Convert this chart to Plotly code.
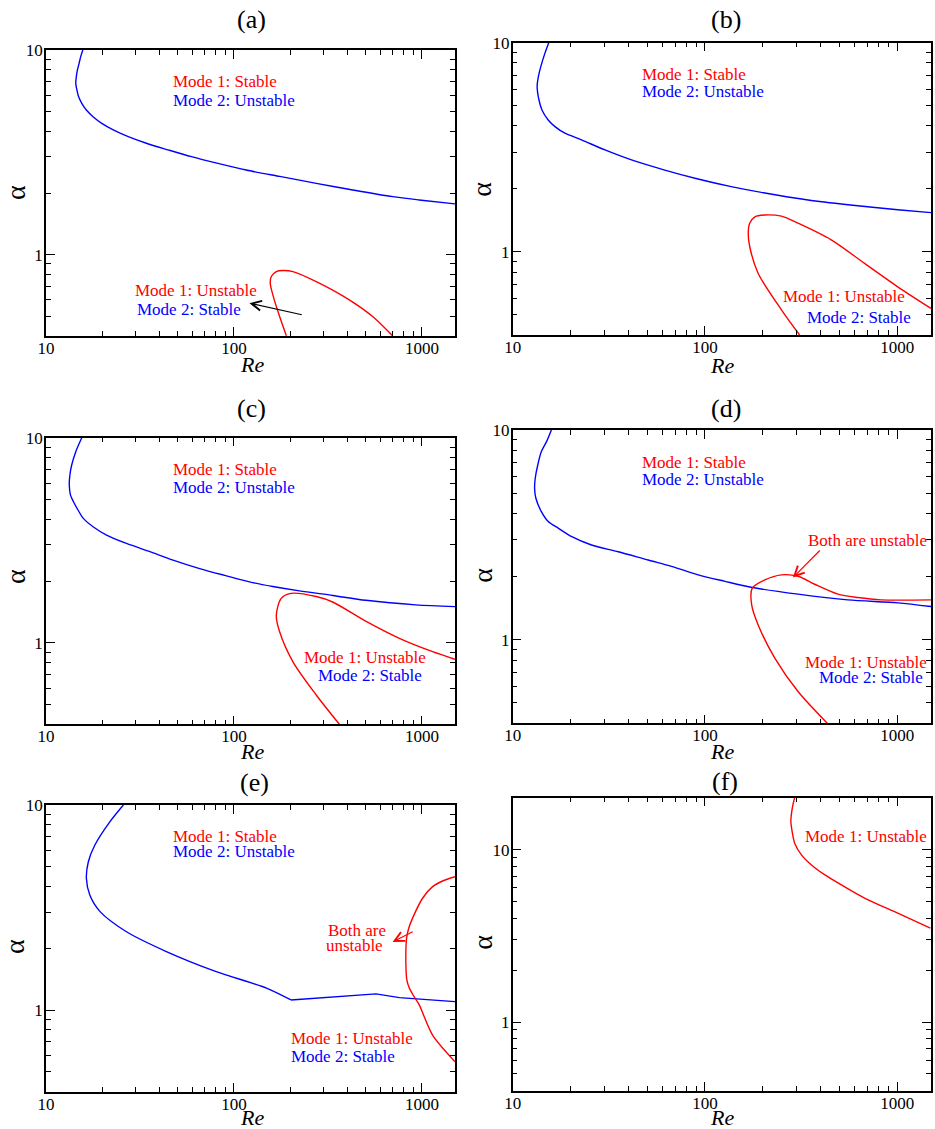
import numpy as np
import plotly.graph_objects as go

W, H = 935, 1129
FONT = "Liberation Serif"
RED = "#ff0000"
BLUE = "#0000ff"

# ---------------- data (Re, alpha) ----------------
a_blue_re = [15.7, 15.3, 15.0, 14.7, 14.5, 14.4, 14.6, 14.9, 15.5, 16.4, 17.8, 19.8, 22.8, 27.4,
             34.2, 44.6, 59.4, 82.2, 116, 175, 274, 429, 699, 968, 1500]
a_blue_al = [10.0, 9.28, 8.61, 7.99, 7.41, 6.87, 6.38, 5.92, 5.49, 5.09, 4.72, 4.38, 4.07, 3.77,
             3.50, 3.25, 3.01, 2.79, 2.59, 2.41, 2.23, 2.07, 1.92, 1.85, 1.77]
a_red_re = [190, 175, 162, 156, 158, 168, 182, 206, 274, 411, 547, 698]
a_red_al = [0.401, 0.498, 0.623, 0.724, 0.781, 0.826, 0.836, 0.826, 0.738, 0.601, 0.498, 0.401]

b_blue_re = [15.4, 14.7, 14.0, 13.6, 13.4, 13.7, 14.2, 15.3, 16.6, 18.7, 22.8, 30.2, 41.5,
             61.8, 92.0, 137, 205, 344, 555, 1007, 1500]
b_blue_al = [10.0, 8.89, 7.68, 6.88, 6.17, 5.32, 4.77, 4.27, 3.97, 3.69, 3.43, 3.07, 2.75,
             2.46, 2.23, 2.05, 1.91, 1.77, 1.68, 1.59, 1.54]
b_red_re = [311, 250, 189, 171, 168, 171, 182, 205, 250, 305, 454, 677, 1007, 1500]
b_red_al = [0.40, 0.528, 0.79, 1.06, 1.23, 1.37, 1.47, 1.50, 1.48, 1.37, 1.14, 0.88, 0.68, 0.536]

c_blue_re = [15.5, 14.4, 13.7, 13.4, 13.3, 13.5, 14.0, 14.8, 15.8, 17.8, 21.0, 26.8, 35.7,
             47.4, 65.7, 91.1, 121, 161, 223, 336, 504, 929, 1500]
c_blue_al = [10.0, 8.55, 7.36, 6.58, 5.88, 5.25, 4.87, 4.44, 4.04, 3.68, 3.35, 3.05, 2.78,
             2.53, 2.30, 2.12, 1.98, 1.88, 1.79, 1.70, 1.61, 1.53, 1.50]
c_red_re = [364, 274, 206, 175, 168, 178, 201, 274, 335, 505, 759, 1140, 1500]
c_red_al = [0.40, 0.556, 0.807, 1.13, 1.36, 1.64, 1.74, 1.68, 1.58, 1.27, 1.05, 0.904, 0.83]

d_blue_re = [15.9, 15.0, 14.1, 13.5, 13.1, 13.0, 13.2, 14.1, 15.3, 17.3, 20.3, 25.7, 35.4,
             50.7, 67.0, 92.2, 127, 174, 305, 554, 1008, 1500]
d_blue_al = [10.0, 8.80, 7.89, 6.81, 5.89, 5.28, 4.73, 4.08, 3.66, 3.40, 3.10, 2.83, 2.63,
             2.40, 2.24, 2.04, 1.90, 1.78, 1.65, 1.55, 1.50, 1.44]
d_red_re = [433, 305, 231, 189, 175, 176, 205, 250, 305, 372, 492, 625, 826, 1500]
d_red_al = [0.40, 0.567, 0.818, 1.18, 1.47, 1.76, 1.93, 2.04, 2.01, 1.84, 1.65, 1.59, 1.55, 1.55]

# panel (e) blue: smooth branch, then piecewise-linear tail
e_blue_re = [25.8, 21.9, 18.2, 16.8, 16.4, 17.1, 19.4, 26.8, 43.7, 80.5, 149, 201]
e_blue_al = [10.0, 8.30, 6.38, 5.29, 4.39, 3.64, 3.02, 2.41, 1.93, 1.54, 1.28, 1.12]
e_blue2_re = [201, 570, 759, 1140, 1500]
e_blue2_al = [1.12, 1.20, 1.15, 1.12, 1.10]
e_red_re = [1500, 1288, 1140, 1008, 891, 850, 829, 822, 832, 857, 905, 968, 1140, 1500]
e_red_al = [4.47, 4.26, 4.00, 3.51, 2.80, 2.50, 2.24, 1.66, 1.40, 1.28, 1.17, 1.06, 0.755, 0.56]

f_red_re = [293, 285, 280, 284, 293, 317, 357, 419, 511, 677, 1007, 1489]
f_red_al = [20.1, 17.5, 14.6, 12.8, 10.9, 9.36, 8.18, 7.16, 6.26, 5.24, 4.28, 3.51]

# ticks
x_major = [10, 100, 1000]
x_major_text = ["10", "100", "1000"]
x_minor = [20, 30, 40, 50, 60, 70, 80, 90, 200, 300, 400, 500, 600, 700, 800, 900]
y_major = [1, 10]
y_major_text = ["1", "10"]
y_minor = [0.5, 0.6, 0.7, 0.8, 0.9, 2, 3, 4, 5, 6, 7, 8, 9, 20]

# ---------------- layout geometry (pixels) ----------------
# (left, right, top, bottom)
boxes = {
    1: (46, 455, 50, 336),
    2: (512.7, 931, 42.7, 335),
    3: (46, 455, 437.7, 724.3),
    4: (512.7, 931, 430, 723.3),
    5: (46, 455, 805, 1091.7),
    6: (512.7, 931, 797.7, 1090.7),
}
yranges = {1: (0.4, 10), 2: (0.4, 10), 3: (0.4, 10), 4: (0.4, 10), 5: (0.4, 10), 6: (0.4, 20)}

def PX(x):
    return x / W

def PY(y):
    return 1 - y / H

fig = go.Figure()

curves = [
    (1, a_blue_re, a_blue_al, BLUE, "spline"),
    (1, a_red_re, a_red_al, RED, "spline"),
    (2, b_blue_re, b_blue_al, BLUE, "spline"),
    (2, b_red_re, b_red_al, RED, "spline"),
    (3, c_blue_re, c_blue_al, BLUE, "spline"),
    (3, c_red_re, c_red_al, RED, "spline"),
    (4, d_blue_re, d_blue_al, BLUE, "spline"),
    (4, d_red_re, d_red_al, RED, "spline"),
    (5, e_blue_re, e_blue_al, BLUE, "spline"),
    (5, e_blue2_re, e_blue2_al, BLUE, "linear"),
    (5, e_red_re, e_red_al, RED, "spline"),
    (6, f_red_re, f_red_al, RED, "spline"),
]
for p, xs, ys, col, shape in curves:
    sfx = "" if p == 1 else str(p)
    line = dict(color=col, width=1.4, shape=shape)
    if shape == "spline":
        line["smoothing"] = 0.8
    fig.add_trace(go.Scatter(
        x=xs, y=ys, mode="lines", line=line,
        xaxis="x" + sfx, yaxis="y" + sfx, showlegend=False, hoverinfo="skip"))

layout = dict(
    width=W, height=H, autosize=False,
    margin=dict(l=0, r=0, t=0, b=0, pad=0),
    paper_bgcolor="white", plot_bgcolor="white",
    showlegend=False,
)

for p, (l, r, t, b) in boxes.items():
    sfx = "" if p == 1 else str(p)
    y0, y1 = yranges[p]
    common = dict(
        type="log", showline=True, linecolor="black", linewidth=1.5, mirror="ticks",
        ticks="inside", ticklen=9, tickwidth=1.3, tickcolor="black",
        showgrid=False, zeroline=False, automargin=False,
        tickfont=dict(family=FONT, size=17, color="black"),
        tickmode="array",
    )
    layout["xaxis" + sfx] = dict(
        common, domain=[PX(l), PX(r)], range=[1, np.log10(1500)],
        anchor="y" + sfx, tickvals=x_major, ticktext=x_major_text, ticklabelstandoff=-4,
        minor=dict(tickmode="array", tickvals=x_minor, ticks="inside", ticklen=5, tickwidth=1.3,
                   tickcolor="black", showgrid=False),
    )
    layout["yaxis" + sfx] = dict(
        common, domain=[PY(b), PY(t)], range=[np.log10(y0), np.log10(y1)],
        anchor="x" + sfx, tickvals=y_major, ticktext=y_major_text, ticklabelstandoff=-2,
        minor=dict(tickmode="array", tickvals=y_minor, ticks="inside", ticklen=5, tickwidth=1.3,
                   tickcolor="black", showgrid=False),
    )

ann = []

def txt(text, x, y, color="black", size=17, xanchor="left", angle=0):
    ann.append(dict(text=text, x=PX(x), y=PY(y), xref="paper", yref="paper",
                    xanchor=xanchor, yanchor="middle", showarrow=False, textangle=angle,
                    font=dict(family=FONT, size=size, color=color)))

# panel titles
for lab, x, y in [("(a)", 251.7, 20), ("(b)", 726, 20), ("(c)", 251.7, 408),
                  ("(d)", 726, 408), ("(e)", 255, 782), ("(f)", 725, 781)]:
    txt(lab, x, y, size=26, xanchor="center")

# axis titles
for x, y in [(251.7, 364), (721.7, 365), (251.7, 751.7), (721.7, 751.7), (251.7, 1117), (721.7, 1117)]:
    txt("<i>Re</i>", x, y, size=22, xanchor="center")
for x, y in [(15, 193), (481.7, 189), (15, 577), (481.7, 575), (15, 947), (481.7, 942)]:
    txt("α", x, y, size=28, xanchor="center", angle=-90)

# region labels
labels = [
    ("Mode 1: Stable", RED, 170.7, 81.7), ("Mode 2: Unstable", BLUE, 170.7, 100),
    ("Mode 1: Unstable", RED, 133.3, 290.7), ("Mode 2: Stable", BLUE, 134.7, 309),
    ("Mode 1: Stable", RED, 640, 74), ("Mode 2: Unstable", BLUE, 640, 91),
    ("Mode 1: Unstable", RED, 781, 296.7), ("Mode 2: Stable", BLUE, 805, 317.3),
    ("Mode 1: Stable", RED, 170.7, 469.3), ("Mode 2: Unstable", BLUE, 170.7, 487.7),
    ("Mode 1: Unstable", RED, 301.7, 657.7), ("Mode 2: Stable", BLUE, 316, 675.7),
    ("Mode 1: Stable", RED, 640, 462.3), ("Mode 2: Unstable", BLUE, 640, 479.3),
    ("Both are unstable", RED, 805.7, 540),
    ("Mode 1: Unstable", RED, 802.7, 662.3), ("Mode 2: Stable", BLUE, 816.7, 677.3),
    ("Mode 1: Stable", RED, 170.7, 836.7), ("Mode 2: Unstable", BLUE, 170.7, 851.7),
    ("Mode 1: Unstable", RED, 288.7, 1038.3), ("Mode 2: Stable", BLUE, 289.3, 1056.7),
    ("Mode 1: Unstable", RED, 803.3, 836.7),
]
for t_, c_, x_, y_ in labels:
    txt(t_, x_, y_, color=c_)
txt("Both are", 356.7, 930.7, color=RED, xanchor="center")
txt("unstable", 354.3, 945, color=RED, xanchor="center")

# arrows: (panel, head Re, head alpha, tail Re, tail alpha, color)
arrows = [
    (1, 121, 0.579, 234, 0.506, "black"),
    (4, 287, 1.98, 403, 2.71, RED),
    (5, 698, 2.15, 910, 2.43, RED),
]
for p, hx, hy, tx, ty, col in arrows:
    sfx = "" if p == 1 else str(p)
    ann.append(dict(x=np.log10(hx), y=np.log10(hy), ax=np.log10(tx), ay=np.log10(ty),
                    xref="x" + sfx, yref="y" + sfx, axref="x" + sfx, ayref="y" + sfx,
                    text="", showarrow=True, arrowhead=5, arrowsize=1.6, arrowwidth=1.2,
                    arrowcolor=col, standoff=0, startstandoff=0))

layout["annotations"] = ann
fig.update_layout(**layout)
fig.write_html("out.html")
